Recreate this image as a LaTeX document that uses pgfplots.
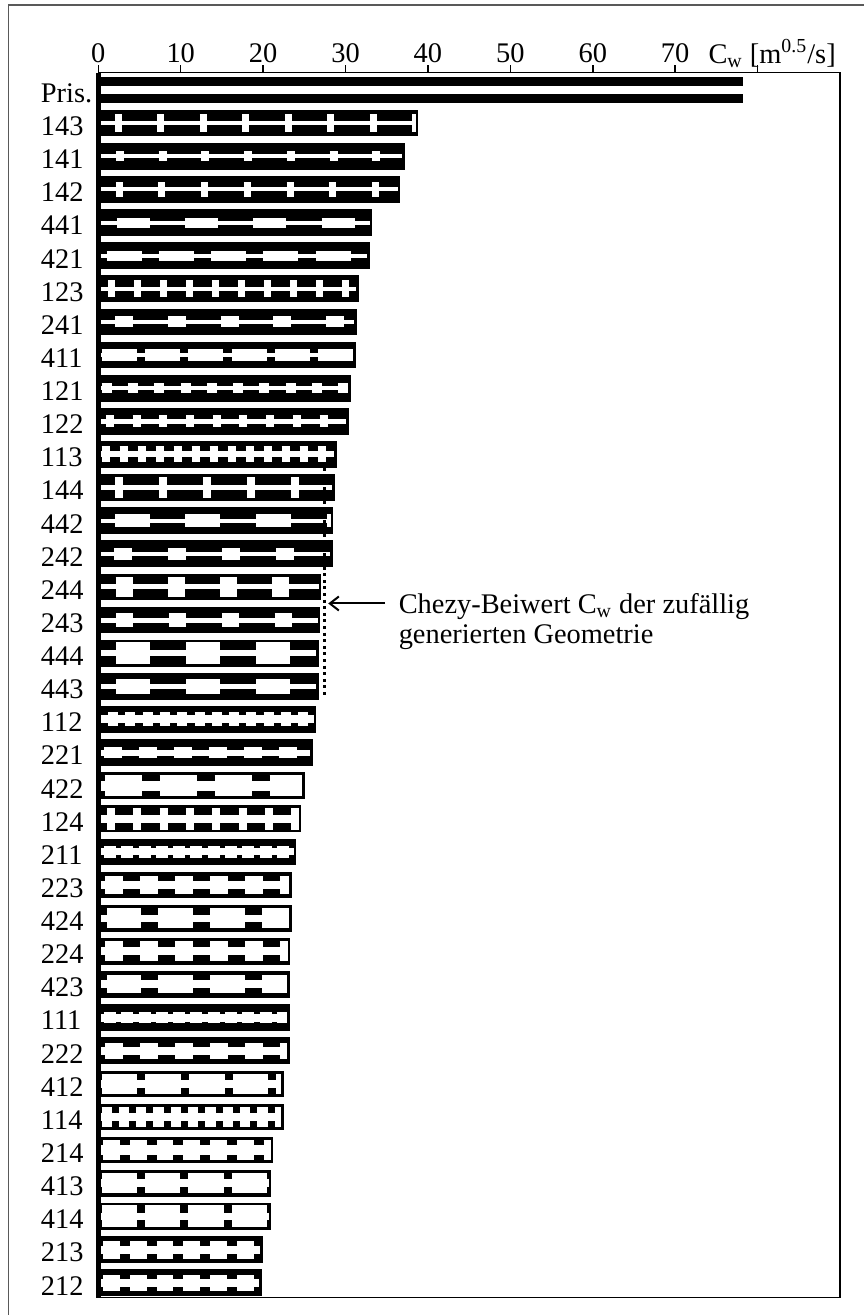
\documentclass[border=0pt]{standalone}
\usepackage{fontspec}
\setmainfont{Liberation Serif}
\usepackage{pgfplots}
\pgfplotsset{compat=1.18}
\usetikzlibrary{arrows.meta}
% #1 y, #2 xend, #3 thin white (pt), #4 blob height (pt), #5 blob width (pt), #6 gap (pt), #7 first blob start
\newcommand{\pat}[7]{%
\addplot[forget plot, mark=none, white, line width=#3pt] coordinates {(0.3,#1) (#2,#1)};
\addplot[forget plot, mark=none, white, line width=#4pt, dash pattern=on #5pt off #6pt] coordinates {(#7,#1) (#2,#1)};
}
\begin{document}
\begin{tikzpicture}
\useasboundingbox (0,0) rectangle (432pt,-657.5pt);
\draw[black!65, line width=0.75pt] (4.15pt,-657.5pt) -- (4.15pt,-2.5pt) -- (432pt,-2.5pt);
\begin{axis}[
  at={(49.15pt,-36.35pt)}, anchor=north west,
  scale only axis, width=370.85pt, height=612.4pt,
  xmin=0, xmax=90, ymin=-0.522, ymax=36.45, y dir=reverse,
  clip=false,
  axis line style={line width=0.75pt},
  xtick={0,10,...,80},
  xticklabels={0,10,20,30,40,50,60,70,{}},
  xtick pos=right, xticklabel pos=right,
  tick align=outside, major tick length=3.8pt,
  xtick style={line width=0.75pt, black},
  ytick={0,...,36},
  yticklabels={Pris.,143,141,142,441,421,123,241,411,121,122,113,144,442,242,244,243,444,443,112,221,422,124,211,223,424,224,423,111,222,412,114,214,413,414,213,212},
  ytick style={draw=none},
  tick label style={font=\fontsize{14.2}{16}\selectfont},
  /pgf/number format/assume math mode=true,
  xticklabel style={inner ysep=1pt},
  yticklabel style={anchor=east, inner xsep=0pt, text width=26pt, align=left, xshift=1.3pt, yshift=-1.5pt},
]
\addplot[xbar, bar shift=0pt, bar width=12.85pt, fill=black, draw=black, line width=0.5pt, forget plot] coordinates {
(78.2,0) (38.76,1) (37.1,2) (36.6,3) (33.2,4) (32.85,5) (31.55,6) (31.27,7) (31.2,8) (30.6,9)
(30.3,10) (28.85,11) (28.65,12) (28.45,13) (28.4,14) (27.0,15) (26.9,16) (26.7,17) (26.7,18) (26.4,19)
(25.97,20) (24.96,21) (24.56,22) (23.95,23) (23.39,24) (23.39,25) (23.26,26) (23.18,27) (23.18,28) (23.2,29)
(22.45,30) (22.45,31) (21.16,32) (20.92,33) (20.92,34) (19.87,35) (19.75,36)};
% Pris.
\addplot[forget plot, mark=none, white, line width=3.65pt] coordinates {(0.3,0) (78.6,0)};
\pat{1}{38.5}{2}{9}{3.5}{17.75}{2.00}
\pat{2}{36.85}{2}{5}{4}{17.35}{2.15}
\pat{3}{36.35}{2}{7.5}{3.5}{17.85}{2.12}
\pat{4}{32.95}{2}{5}{16.5}{17.65}{2.25}
\pat{5}{32.6}{2}{5}{17.5}{8.65}{1.0}
\pat{6}{31.3}{2}{8.5}{3.5}{9.5}{1.2}
\pat{7}{31.0}{2}{5.5}{9}{17.35}{2.06}
\pat{8}{30.95}{2}{5.85}{17.5}{4.15}{0.4}
\pat{9}{30.35}{2}{5}{5}{8.15}{0.41}
\pat{10}{30.05}{2.5}{6.15}{4}{9.35}{0.93}
\pat{11}{28.6}{3}{8}{4}{5}{0.4}
\pat{12}{28.4}{2.5}{10.5}{4}{18}{2.06}
\pat{13}{28.2}{2}{6.65}{17.5}{17.85}{2.0}
\pat{14}{28.15}{2}{5.85}{9}{18}{1.94}
\pat{15}{26.75}{2.5}{10}{8.5}{17.65}{2.09}
\pat{16}{26.65}{2.5}{6.65}{8.5}{17.85}{2.2}
\pat{17}{26.45}{3}{10.85}{17}{18}{2.18}
\pat{18}{26.45}{2.5}{7.5}{17}{18}{2.18}
\pat{19}{26.15}{4}{7}{5}{3.65}{1.18}
\pat{20}{25.72}{3}{5.25}{9}{8.5}{0.73}
\pat{21}{24.71}{5}{10.5}{18.5}{9}{0.78}
\pat{22}{24.31}{4}{11}{4}{9.15}{1.06}
\pat{23}{23.7}{3.5}{5.85}{6}{2.65}{0.69}
\pat{24}{23.14}{4.15}{9}{9}{8.5}{0.81}
\pat{25}{23.14}{3.35}{10}{17.35}{8.5}{1.03}
\pat{26}{23.01}{4}{10}{9}{8.5}{0.81}
\pat{27}{22.93}{4}{9}{17.35}{8.5}{1.03}
\pat{28}{22.93}{4}{5.5}{6}{2.65}{0.69}
\pat{29}{22.95}{4}{8}{9}{8.5}{0.81}
\pat{30}{22.2}{3.65}{10}{17.85}{4}{0.4}
\pat{31}{22.2}{4}{10}{5.15}{3.5}{0.4}
\pat{32}{20.91}{5}{10}{8.35}{5}{0.61}
\pat{33}{20.67}{4}{10}{17.65}{4}{0.4}
\pat{34}{20.67}{3.35}{11}{17.65}{4}{0.4}
\pat{35}{19.62}{4}{9}{8.35}{5}{0.61}
\pat{36}{19.5}{4}{8}{8.35}{5}{0.61}
% left axis line (thick)
\draw[line width=2.2pt] (rel axis cs:0,0) -- (rel axis cs:0,1);
% dotted reference line and arrow
\addplot[forget plot, mark=none, black, line width=1.5pt, dash pattern=on 1.5pt off 1.8pt] coordinates {(27.5,11.4) (27.5,18.26)};
\addplot[forget plot, mark=none, black, line width=1pt, -{Straight Barb[length=4.5pt,width=7pt,line width=1pt]}] coordinates {(34.8,15.5) (27.9,15.5)};
\node[anchor=base west, inner sep=0pt, font=\fontsize{14.2}{16}\selectfont] at (axis cs:36.41,15.80) {Chezy-Beiwert C\textsubscript{w} der zufällig};
\node[anchor=base west, inner sep=0pt, font=\fontsize{14.2}{16}\selectfont] at (axis cs:36.41,16.70) {generierten Geometrie};
\node[anchor=base west, inner sep=0pt, font=\fontsize{14.2}{16}\selectfont] at (axis cs:74.0,-0.815) {C\textsubscript{w} [m\textsuperscript{0.5}/s]};
\end{axis}
\end{tikzpicture}
\end{document}
